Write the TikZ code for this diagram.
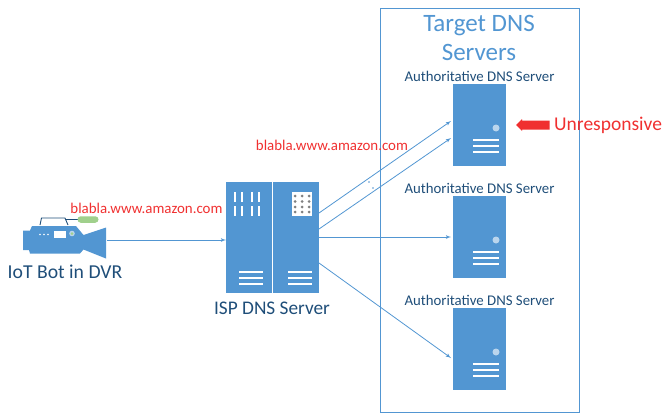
\documentclass[tikz,border=0pt]{standalone}
\usepackage{fontspec}
\setmainfont{Carlito}
\usetikzlibrary{arrows,shapes}
\definecolor{srvblue}{HTML}{5296D2}
\definecolor{lblblue}{HTML}{1F4E79}
\definecolor{alertred}{HTML}{F03030}
\definecolor{ledgreen}{HTML}{A0D08C}
\tikzstyle{srv} = [draw=none, fill=srvblue, inner sep=0pt, minimum width=53pt, minimum height=82pt]
\tikzstyle{pane} = [draw=none, fill=srvblue, inner sep=0pt, minimum width=46pt, minimum height=111pt]
\tikzstyle{lbl} = [text=lblblue, inner sep=0pt]
\tikzstyle{red} = [text=alertred, inner sep=0pt, font=\fontsize{14.9}{16}\selectfont]
\tikzstyle{link} = [->, srvblue, line width=0.8pt]
\tikzstyle{slot} = [white, line width=1.2pt]

\begin{document}
\begin{tikzpicture}[x=1pt,y=-1pt,>=latex']
    \useasboundingbox (0,0) rectangle (663,415);

    %target servers box
    \node[draw=srvblue,line width=0.8pt,minimum width=199pt,minimum height=404pt,inner sep=0pt] at (479.5,210) (frame) {};
    \node[inner sep=0pt,align=center,text=srvblue,font=\fontsize{25}{29}\selectfont] at (479,38) (title) {Target DNS\\Servers};

    %authoritative servers
    \foreach \n/\y in {1/125,2/237,3/349}
      {
        \node[srv] at (479.5,\y) (srv\n) {};
        \node[lbl,font=\fontsize{14.8}{16}\selectfont] at (479.5,\y-49) (auth\n) {Authoritative DNS Server};
        \fill[white!60!srvblue] (496,\y+3) circle (3.5);
        \foreach \d in {15,21,27}
          \draw[slot] (473,\y+\d) -- (499,\y+\d);
      }

    %isp server
    \node[pane] at (249,237.5) (ispl) {};
    \node[pane] at (296,237.5) (ispr) {};
    \foreach \x in {235,242,252,259}
      \foreach \y in {192,206}
        \fill[white] (\x-1.4,\y) rectangle ++(2.8,10);
    \node[fill=white,inner sep=0pt,minimum width=20pt,minimum height=24pt] at (302,204) (grid) {};
    \foreach \x in {295,302,309}
      \foreach \y in {196,201.5,207,212}
        \fill[gray] (\x,\y) circle (1.5);
    \foreach \y in {272,278,284}
      {
        \draw[slot] (239,\y) -- (263,\y);
        \draw[slot] (288,\y) -- (312,\y);
      }
    \node[lbl,font=\fontsize{19.3}{21}\selectfont] at (272,308) (isplbl) {ISP DNS Server};

    %camera
    \fill[srvblue] (23,230.5) -- (30,230.5) -- (32,226) -- (76,226) -- (83.5,235) -- (106,227.5) -- (106,258.5) -- (83.5,249.5) -- (80,253.5) -- (30,253.5) -- (29,250) -- (23,250) -- cycle;
    \draw[lblblue,line width=0.9pt] (40,225) -- (41.5,218) -- (65,218) -- (68,225);
    \draw[lblblue,line width=0.9pt] (65,219.5) -- (78,219.5);
    \node[fill=ledgreen,rounded rectangle,inner sep=0pt,minimum width=21pt,minimum height=6.5pt] at (88,219.5) (led) {};
    \node[fill=white,inner sep=0pt,minimum width=12pt,minimum height=7pt] at (60,234.5) (screen) {};
    \foreach \x in {40,44,48}
      \fill[white] (\x,234.5) circle (0.9);
    \fill[white!60!srvblue] (72,233.5) circle (2.8);
    \fill[ledgreen] (72,233.5) circle (1.5);
    \node (bot) at (65,240) [inner sep=0pt,minimum width=84pt,minimum height=1pt] {};
    \node[lbl,font=\fontsize{19.7}{21}\selectfont] at (65,272) (botlbl) {IoT Bot in DVR};

    %queries
    \coordinate (q0e) at (226,240);
    \coordinate (q1s) at (319,213);
    \coordinate (q2s) at (319,229);
    \coordinate (q3s) at (319,237);
    \coordinate (q4s) at (319,263);
    \coordinate (q1e) at (451,121);
    \coordinate (q2e) at (451,138);
    \coordinate (q3e) at (451,237);
    \coordinate (q4e) at (451,358);
    \draw[link] (bot.east) -- (q0e);
    \draw[link] (q1s) -- (q1e);
    \draw[link] (q2s) -- (q2e);
    \draw[link] (q3s) -- (q3e);
    \draw[link] (q4s) -- (q4e);
    \fill[srvblue] (369,182) circle (0.9);
    \fill[srvblue] (373,188) circle (0.9);

    %red labels
    \node[red] at (146.5,208) (qry1) {blabla.www.amazon.com};
    \node[red] at (332,145) (qry2) {blabla.www.amazon.com};
    \node[red,font=\fontsize{19.5}{21}\selectfont,right] at (554,125) (unresp) {Unresponsive};
    \fill[alertred] (549.5,120.5) -- (522,120.5) -- (522,119) -- (516,125) -- (522,131) -- (522,129.5) -- (549.5,129.5) -- cycle;
\end{tikzpicture}
\end{document}
